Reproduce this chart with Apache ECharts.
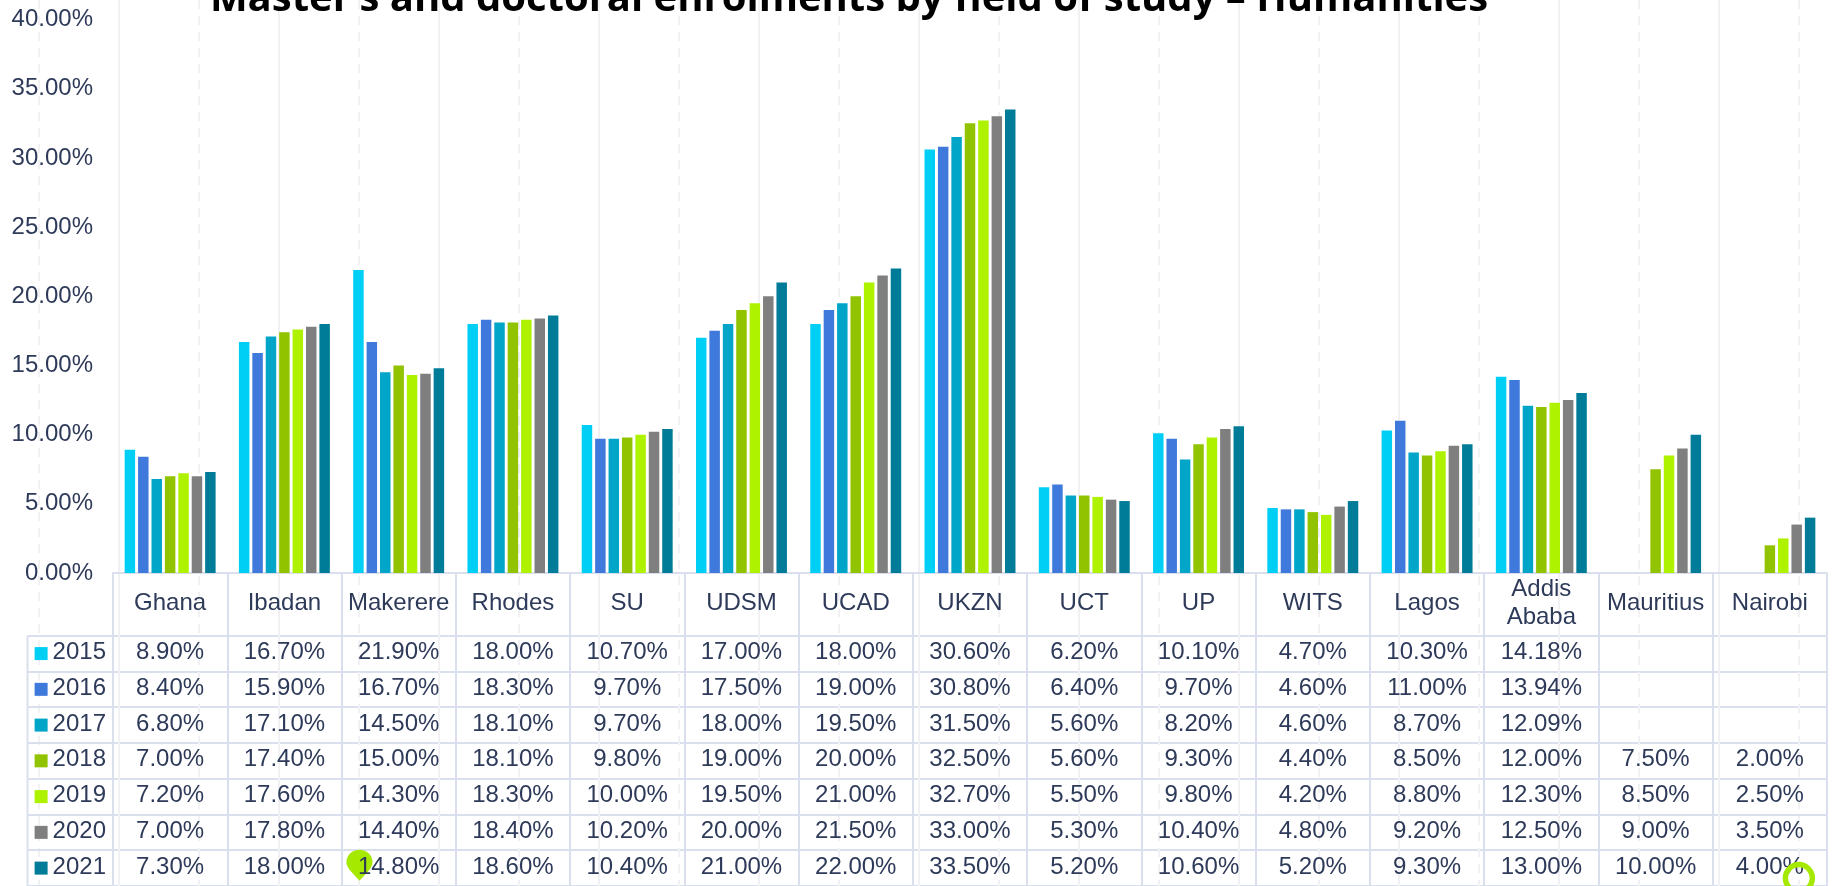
<html>
<head>
    <meta charset="utf-8">
    <script src="https://cdn.jsdelivr.net/npm/echarts@6/dist/echarts.min.js"></script>
    <style>
        html, body { margin: 0; padding: 0; background: #fff; overflow: hidden; }
        #main { width: 1837px; height: 886px; }
    </style>
</head>
<body>
<div id="main"></div>
<script>
    var universities = ['Ghana', 'Ibadan', 'Makerere', 'Rhodes', 'SU', 'UDSM', 'UCAD', 'UKZN', 'UCT', 'UP', 'WITS', 'Lagos', 'Addis\nAbaba', 'Mauritius', 'Nairobi'];
    var years = ['2015', '2016', '2017', '2018', '2019', '2020', '2021'];
    var yearColors = ['#00cff5', '#3e79db', '#00a5c8', '#91c300', '#aef200', '#7f7f7f', '#007c98'];

    var values2015 = [8.90, 16.70, 21.90, 18.00, 10.70, 17.00, 18.00, 30.60, 6.20, 10.10, 4.70, 10.30, 14.18, null, null];
    var values2016 = [8.40, 15.90, 16.70, 18.30, 9.70, 17.50, 19.00, 30.80, 6.40, 9.70, 4.60, 11.00, 13.94, null, null];
    var values2017 = [6.80, 17.10, 14.50, 18.10, 9.70, 18.00, 19.50, 31.50, 5.60, 8.20, 4.60, 8.70, 12.09, null, null];
    var values2018 = [7.00, 17.40, 15.00, 18.10, 9.80, 19.00, 20.00, 32.50, 5.60, 9.30, 4.40, 8.50, 12.00, 7.50, 2.00];
    var values2019 = [7.20, 17.60, 14.30, 18.30, 10.00, 19.50, 21.00, 32.70, 5.50, 9.80, 4.20, 8.80, 12.30, 8.50, 2.50];
    var values2020 = [7.00, 17.80, 14.40, 18.40, 10.20, 20.00, 21.50, 33.00, 5.30, 10.40, 4.80, 9.20, 12.50, 9.00, 3.50];
    var values2021 = [7.30, 18.00, 14.80, 18.60, 10.40, 21.00, 22.00, 33.50, 5.20, 10.60, 5.20, 9.30, 13.00, 10.00, 4.00];
    var valuesByYear = [values2015, values2016, values2017, values2018, values2019, values2020, values2021];

    var titleText = 'Master\u2019s and doctoral enrolments by field of study \u2013 Humanities';

    var chart = echarts.init(document.getElementById('main'));

    var textColor = '#2e3a59';
    var tableLine = '#d9dfec';
    var ruleColor = '#f1f1f3';
    var markGreen = '#a5e800';
    var fontName = '"Liberation Sans", Arial, sans-serif';

    var series = [];

    // bars, one series per year
    years.forEach(function (year, i) {
        series.push({
            type: 'bar',
            name: year,
            xAxisIndex: 0,
            yAxisIndex: 0,
            barGap: '28%',
            barCategoryGap: '20.4%',
            itemStyle: {color: yearColors[i]},
            data: valuesByYear[i]
        });
    });

    // table cells, labels only
    var cells = [];
    years.forEach(function (year, i) {
        valuesByYear[i].forEach(function (v, j) {
            if (v !== null) {
                cells.push([universities[j], year, v]);
            }
        });
    });
    series.push({
        type: 'scatter',
        xAxisIndex: 1,
        yAxisIndex: 1,
        symbolSize: 0,
        z: 5,
        silent: true,
        itemStyle: {opacity: 1},
        label: {
            show: true,
            position: 'inside',
            offset: [0, -1],
            color: textColor,
            fontFamily: fontName,
            fontSize: 24,
            formatter: function (p) {
                return p.value[2].toFixed(2) + '%';
            }
        },
        data: cells
    });

    // the two stray green marks sitting on the last table row
    series.push({
        type: 'scatter',
        xAxisIndex: 1,
        yAxisIndex: 1,
        silent: true,
        z: 3,
        symbol: 'path://M13 31 L3 20 C1 17 0 15 0 12.5 C0 5 6 0 13 0 C20 0 26 5 26 12.5 C26 15 25 17 23 20 Z',
        symbolSize: [26, 31],
        symbolOffset: [-39.2, -2.9],
        itemStyle: {color: markGreen, opacity: 1},
        data: [['Makerere', '2021']]
    });
    series.push({
        type: 'scatter',
        xAxisIndex: 1,
        yAxisIndex: 1,
        silent: true,
        z: 10,
        symbol: 'circle',
        symbolSize: 27,
        symbolOffset: [29, 10],
        itemStyle: {color: 'rgba(0,0,0,0)', borderColor: markGreen, borderWidth: 5.5, opacity: 1},
        data: [['Nairobi', '2021']]
    });

    var yearRich = {};
    years.forEach(function (year, i) {
        yearRich['k' + i] = {width: 13, height: 13, backgroundColor: yearColors[i]};
    });
    yearRich.t = {color: textColor, fontFamily: fontName, fontSize: 24, padding: [0, 0, 2, 5]};

    var hiddenAxis = {
        axisLine: {show: false},
        axisTick: {show: false},
        axisLabel: {show: false}
    };

    var option = {
        animation: false,
        backgroundColor: '#fff',
        textStyle: {fontFamily: fontName},
        title: {
            text: titleText,
            left: 844,
            textAlign: 'center',
            top: -25,
            textStyle: {
                fontFamily: '"Open Sans", sans-serif',
                fontWeight: 'bold',
                fontSize: 40,
                color: '#000'
            }
        },
        grid: [
            {left: 113, right: 10, top: 19.5, height: 553.5},
            {left: 113, right: 10, top: 635.7, height: 250.6},
            {left: 39, width: 1760, top: 0, height: 886},
            {left: 119, width: 1600, top: 0, height: 886}
        ],
        xAxis: [
            {
                type: 'category',
                gridIndex: 0,
                data: universities,
                axisLine: {lineStyle: {color: tableLine, width: 2}},
                axisTick: {show: true, length: 62, lineStyle: {color: tableLine, width: 2}},
                axisLabel: {
                    interval: 0,
                    color: textColor,
                    fontFamily: fontName,
                    fontSize: 24,
                    lineHeight: 28,
                    margin: 30,
                    verticalAlign: 'middle'
                },
                splitLine: {show: false}
            },
            Object.assign({
                type: 'category',
                gridIndex: 1,
                data: universities,
                position: 'top',
                splitLine: {show: true, interval: 0, lineStyle: {color: tableLine, width: 2}}
            }, hiddenAxis),
            // pale vertical rules behind everything, dashed and solid in turn
            Object.assign({
                type: 'value',
                gridIndex: 2,
                min: 0,
                max: 1760,
                interval: 160,
                splitLine: {show: true, lineStyle: {color: ruleColor, width: 2, type: [9, 7]}}
            }, hiddenAxis),
            Object.assign({
                type: 'value',
                gridIndex: 3,
                min: 0,
                max: 1600,
                interval: 160,
                splitLine: {show: true, lineStyle: {color: ruleColor, width: 2}}
            }, hiddenAxis)
        ],
        yAxis: [
            {
                type: 'value',
                gridIndex: 0,
                min: 0,
                max: 40,
                interval: 5,
                axisLine: {show: false},
                axisTick: {show: false},
                splitLine: {show: false},
                axisLabel: {
                    color: textColor,
                    fontFamily: fontName,
                    fontSize: 24,
                    margin: 20,
                    formatter: function (v) {
                        return v.toFixed(2) + '%';
                    }
                }
            },
            {
                type: 'category',
                gridIndex: 1,
                data: years,
                inverse: true,
                axisLine: {show: true, lineStyle: {color: tableLine, width: 2}},
                axisTick: {show: true, length: 85.5, lineStyle: {color: tableLine, width: 2}},
                splitLine: {show: true, interval: 0, lineStyle: {color: tableLine, width: 2}},
                axisLabel: {
                    margin: 7,
                    interval: 0,
                    formatter: function (v, i) {
                        return '{k' + i + '|}{t|' + v + '}';
                    },
                    rich: yearRich
                }
            },
            {type: 'value', gridIndex: 2, show: false, min: 0, max: 1},
            {type: 'value', gridIndex: 3, show: false, min: 0, max: 1}
        ],
        graphic: [
            // left edge of the year column
            {
                type: 'line',
                silent: true,
                z: 1,
                shape: {x1: 27.5, y1: 635.7, x2: 27.5, y2: 886},
                style: {stroke: tableLine, lineWidth: 2}
            }
        ],
        series: series
    };

    chart.setOption(option);
</script>
</body>
</html>
